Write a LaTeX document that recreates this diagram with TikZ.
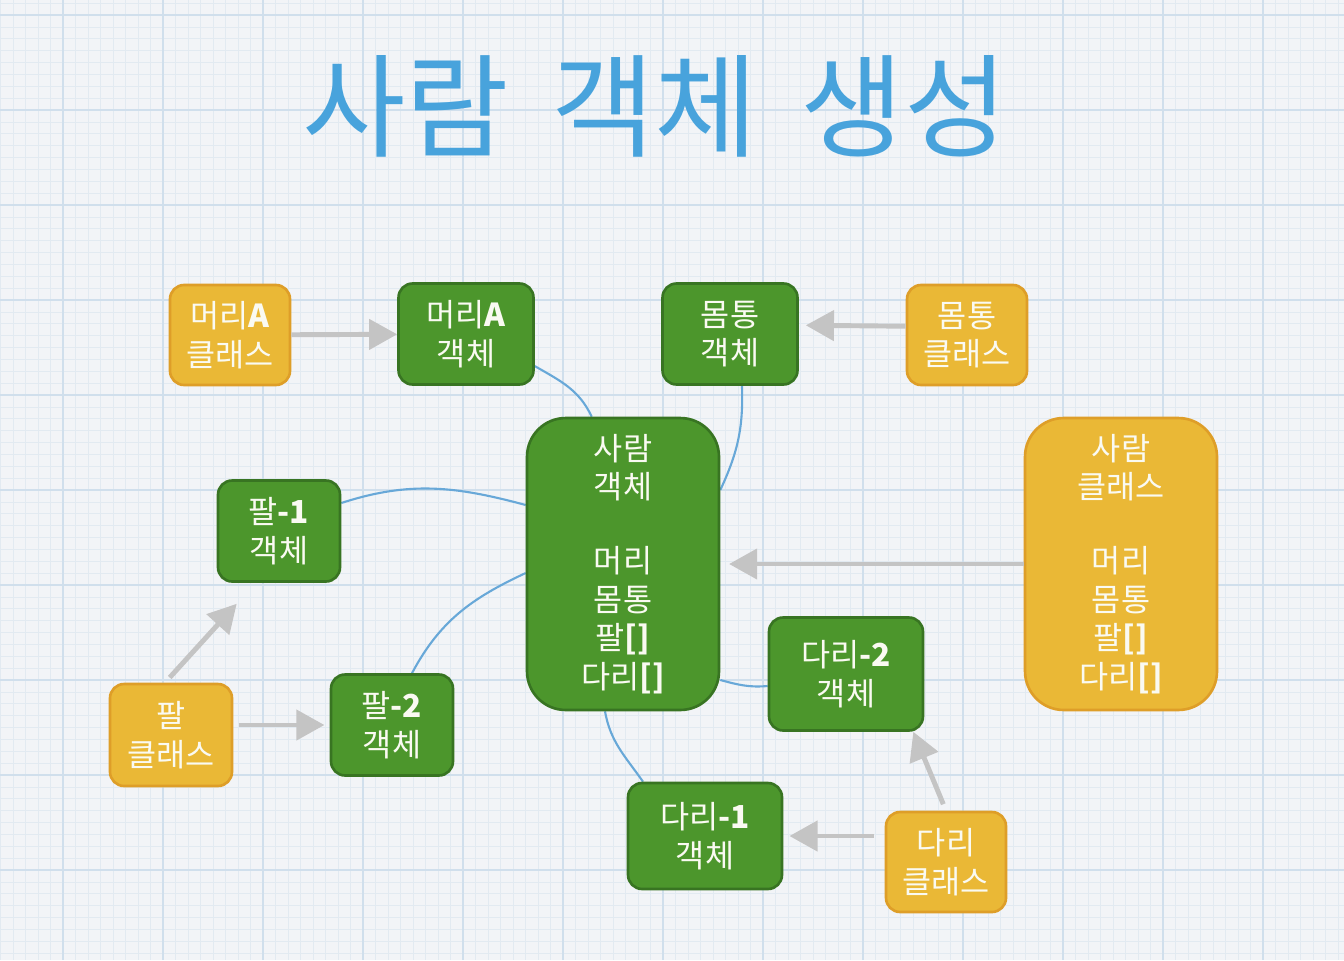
\documentclass[tikz,border=0pt]{standalone}
\usepackage{fontspec}
\setmainfont{Noto Sans CJK KR}
\usetikzlibrary{positioning,arrows.meta,calc,backgrounds}
\definecolor{paper}{RGB}{242,244,247}
\definecolor{gMinor}{RGB}{226,234,241}
\definecolor{gMajor}{RGB}{208,223,236}
\definecolor{tTitle}{RGB}{72,163,220}
\definecolor{cObj}{RGB}{76,150,44}
\definecolor{cObjLine}{RGB}{56,116,34}
\definecolor{cCls}{RGB}{234,184,54}
\definecolor{cClsLine}{RGB}{222,158,40}
\definecolor{cLink}{RGB}{104,168,216}
\definecolor{cMake}{RGB}{196,196,196}
\definecolor{txt}{RGB}{250,250,242}

\begin{document}
\begin{tikzpicture}[x=0.02cm, y=0.02cm,
  box/.style={rounded corners=8pt, line width=1.5pt, align=center, text=txt, inner sep=0pt, font=\fontsize{18}{22}\selectfont},
  obj/.style={box, draw=cObjLine, fill=cObj},
  cls/.style={box, draw=cClsLine, fill=cCls},
  tall/.style={rounded corners=22pt, minimum width=3.84cm, minimum height=5.84cm},
  make/.style={cMake, line width=2.8pt, -{Triangle[length=16pt,width=17pt]}},
  has/.style={cLink, line width=1.2pt},
]
\useasboundingbox (0,0) rectangle (1344,-960);

% ---- graph paper ----
\begin{scope}[on background layer]
  \fill[paper] (0,0) rectangle (1344,-960);
  \foreach \i in {0,...,107} \draw[gMinor, line width=0.4pt] ({0.5+12.5*\i},0) -- ({0.5+12.5*\i},-960);
  \foreach \i in {0,...,80} \draw[gMinor, line width=0.4pt] (0,{-3.125-11.875*\i}) -- (1344,{-3.125-11.875*\i});
  \foreach \x in {63,163,...,1263} \draw[gMajor, line width=0.8pt] (\x,0) -- (\x,-960);
  \foreach \y in {15,110,...,960} \draw[gMajor, line width=0.8pt] (0,-\y) -- (1344,-\y);
\end{scope}

% ---- title ----
\node[font=\fontsize{64}{70}\selectfont, text=tTitle] (title) at (655,-106) {사람\hspace{0.85cm}객체\hspace{0.85cm}생성};

% ---- head / body ----
\node[cls, minimum width=2.4cm, minimum height=2cm] (hcls) at (230,-335) {머리\textbf{A}\\클래스};
\node[obj, minimum width=2.7cm, minimum height=2.02cm] (hobj) at (466,-334) {머리\textbf{A}\\객체};
\node[obj, minimum width=2.7cm, minimum height=2.02cm] (bobj) at (730,-334) {몸통\\객체};
\node[cls, minimum width=2.4cm, minimum height=2cm] (bcls) at (967,-335) {몸통\\클래스};

% ---- person ----
\node[obj, tall] (pobj) at (623,-564) {사람\\객체\\[20pt]머리\\몸통\\팔\textbf{[]}\\다리\textbf{[]}};
\node[cls, tall] (pcls) at (1121,-564) {사람\\클래스\\[20pt]머리\\몸통\\팔\textbf{[]}\\다리\textbf{[]}};

% ---- arms ----
\node[obj, minimum width=2.44cm, minimum height=2.02cm] (a1obj) at (279,-531) {팔\textbf{-1}\\객체};
\node[cls, minimum width=2.44cm, minimum height=2.04cm] (acls) at (171,-735) {팔\\클래스};
\node[obj, minimum width=2.44cm, minimum height=2.02cm] (a2obj) at (392,-725) {팔\textbf{-2}\\객체};

% ---- legs ----
\node[obj, minimum width=3.08cm, minimum height=2.26cm] (l2obj) at (846,-674) {다리\textbf{-2}\\객체};
\node[obj, minimum width=3.08cm, minimum height=2.12cm] (l1obj) at (705,-836) {다리\textbf{-1}\\객체};
\node[cls, minimum width=2.4cm, minimum height=2cm] (lcls) at (946,-862) {다리\\클래스};

% ---- class -> object ----
\draw[make] (hcls) -- (hobj);
\draw[make, shorten >=4pt] ([yshift=5pt]bcls.west) -- ([yshift=5pt]bobj.east);
\draw[make, shorten >=5pt] (pcls) -- (pobj);
\draw[make, shorten <=4pt] ($(acls.north)+(-6,0)$) -- ($(a1obj.south west)+(20,-21)$);
\draw[make, shorten <=3pt, shorten >=3pt] (acls.east |- a2obj) -- (a2obj.west);
\draw[make, shorten <=6pt, shorten >=3.5pt] (lcls.west |- l1obj) -- (l1obj.east);
\draw[make, shorten <=4pt] (lcls.north) -- ($(l2obj.south east)+(-11,0)$);

% ---- person holds its parts ----
\begin{scope}[on background layer]
  \draw[has] (hobj.-25) to[out=-30,in=115] (pobj.102);
  \draw[has] (bobj.-77) to[out=-88,in=65] ($(pobj.east)+(0,74)$);
  \draw[has] ($(a1obj.east)+(0,28)$) to[out=18,in=165] ($(pobj.west)+(0,59)$);
  \draw[has] ($(a2obj.north)+(20,0)$) to[out=62,in=205] ($(pobj.west)+(0,-9)$);
  \draw[has] ($(pobj.east)+(0,-116)$) to[out=-15,in=185] ($(l2obj.west)+(0,-12)$);
  \draw[has] ($(pobj.south)+(-18,0)$) to[out=-80,in=125] ($(l1obj.north)+(-62,0)$);
\end{scope}

\end{tikzpicture}
\end{document}
